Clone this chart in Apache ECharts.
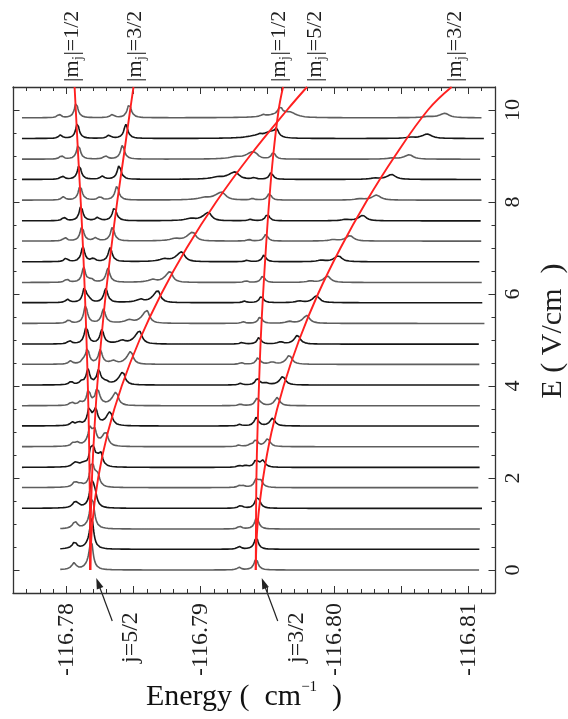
<!DOCTYPE html>
<html>
<head>
<meta charset="utf-8">
<script src="https://cdn.jsdelivr.net/npm/echarts@6/dist/echarts.min.js"></script>
<style>
  html, body { margin: 0; padding: 0; background: #fff; }
  #chart { width: 568px; height: 719px; }
</style>
</head>
<body>
<div id="chart"></div>
<script>
// Electric field (V/cm) of each stacked spectrum, bottom to top
const fieldValues = [0, 0.45, 0.89, 1.34, 1.79, 2.23, 2.68, 3.13, 3.57, 4.02, 4.47, 4.91,
  5.36, 5.81, 6.25, 6.70, 7.15, 7.59, 8.04, 8.49, 8.93, 9.38, 9.83];

// Scan range of each spectrum (cm^-1)
const scanStart = [-116.77953, -116.77953, -116.77953, -116.77667, -116.77667, -116.77667,
  -116.77667, -116.77667, -116.77667, -116.77667, -116.77667, -116.77667, -116.77667,
  -116.77667, -116.77667, -116.77667, -116.77667, -116.77667, -116.77667, -116.77667,
  -116.77667, -116.77667, -116.77667];
const scanEnd = [-116.81082, -116.81087, -116.81087, -116.81105, -116.81080, -116.81087,
  -116.81087, -116.81087, -116.81091, -116.81087, -116.81084, -116.81080, -116.81125,
  -116.81110, -116.81102, -116.81087, -116.81100, -116.81093, -116.81105, -116.81100,
  -116.81093, -116.81117, -116.81100];

// Measured line centres (cm^-1) per spectrum
// j=5/2 manifold: |mj|=1/2, 3/2, 5/2
const centreA = [-116.78184, -116.78187, -116.78186, -116.78183, -116.78183, -116.78181,
  -116.78177, -116.78169, -116.78164, -116.78160, -116.78156, -116.78149, -116.78141,
  -116.78134, -116.78128, -116.78122, -116.78115, -116.78108, -116.78102, -116.78095,
  -116.78089, -116.78081, -116.78072];
const centreB = [-116.78184, -116.78189, -116.78192, -116.78195, -116.78196, -116.78201,
  -116.78209, -116.78218, -116.78229, -116.78240, -116.78252, -116.78264, -116.78276,
  -116.78293, -116.78309, -116.78326, -116.78343, -116.78358, -116.78376, -116.78393,
  -116.78418, -116.78443, -116.78468];
const centreC = [-116.78184, -116.78189, -116.78198, -116.78213, -116.78233, -116.78255,
  -116.78294, -116.78326, -116.78371, -116.78421, -116.78481, -116.78545, -116.78600,
  -116.78682, -116.78774, -116.78861, -116.78943, -116.79060, -116.79160, -116.79259,
  -116.79391, -116.79528, -116.79669];
// j=3/2 manifold: |mj|=1/2, 3/2
const centreD = [-116.79416, -116.79416, -116.79417, -116.79418, -116.79416, -116.79414,
  -116.79414, -116.79419, -116.79423, -116.79425, -116.79431, -116.79438, -116.79446,
  -116.79455, -116.79466, -116.79475, -116.79489, -116.79500, -116.79515, -116.79528,
  -116.79545, -116.79569, -116.79595];
const centreE = [-116.79416, -116.79419, -116.79425, -116.79437, -116.79449, -116.79466,
  -116.79503, -116.79540, -116.79575, -116.79615, -116.79664, -116.79725, -116.79793,
  -116.79867, -116.79949, -116.80030, -116.80117, -116.80212, -116.80316, -116.80428,
  -116.80560, -116.80694, -116.80826];

// Line intensities (arb. units)
const heightA = [10, 10.5, 11, 11.5, 12, 13, 15, 15, 15, 15, 15, 15, 15, 15, 15, 15, 15, 15, 15, 15, 15, 15, 15];
const heightB = [10, 10.5, 11, 11.5, 12, 13, 14, 14, 14, 14, 14, 14, 14, 14, 14, 14, 14, 14, 14, 14, 14, 14, 14];
const heightC = [10, 10.5, 11, 11.5, 12, 14, 14, 14, 13.5, 13, 13, 13, 13, 12, 11, 10, 9, 8.5, 8, 7.5, 7, 6.5, 5.5];
const heightD = [6, 6, 6, 6.5, 7, 7, 7, 7, 7, 7, 7, 7, 7, 7, 7, 7, 7, 7, 7, 7, 7, 7.5, 8];
const heightE = [5.5, 6, 6, 6.5, 7, 7, 8, 8, 8.5, 8.5, 9, 9, 8, 7, 6.5, 6, 5.5, 5.5, 5, 5, 4.5, 4.5, 4.5];

// Line half-widths (cm^-1)
const widthA = 1.6e-4;
const widthB = 1.75e-4;
const widthD = 1.6e-4;
const widthC = [1.75e-4, 1.75e-4, 1.75e-4, 1.75e-4, 1.75e-4, 1.75e-4, 1.95e-4, 1.95e-4,
  1.95e-4, 1.95e-4, 1.95e-4, 2.3e-4, 2.3e-4, 2.3e-4, 2.3e-4, 2.65e-4, 2.65e-4,
  2.65e-4, 3.4e-4, 3.4e-4, 3.4e-4, 4.1e-4, 5.2e-4];
const widthE = [1.75e-4, 1.75e-4, 1.75e-4, 1.75e-4, 1.95e-4, 1.95e-4, 1.95e-4, 1.95e-4,
  1.95e-4, 2.3e-4, 2.3e-4, 2.3e-4, 2.65e-4, 2.65e-4, 2.65e-4, 3.0e-4, 3.0e-4,
  3.0e-4, 3.4e-4, 3.4e-4, 3.4e-4, 3.75e-4, 3.75e-4];
const skewC = 1.8;            // |mj|=5/2 lines tail towards higher energy
const satelliteShift = 1.27e-3; // weak companion line, higher energy
const satelliteRatio = 0.22;

// Calculated Stark shifts (cm^-1) versus field
const curveField = [0, 1, 2, 3, 4, 5, 6, 7, 8, 9, 10, 10.5];
const starkA = [-116.78177, -116.78176, -116.78172, -116.78167, -116.78159, -116.78149,
  -116.78137, -116.78123, -116.78106, -116.78087, -116.78069, -116.78060];
const starkB = [-116.78177, -116.78180, -116.78190, -116.78207, -116.78229, -116.78259,
  -116.78293, -116.78334, -116.78378, -116.78427, -116.78475, -116.78500];
const starkC = [-116.78177, -116.78192, -116.78236, -116.78309, -116.78412, -116.78545,
  -116.78707, -116.78897, -116.79117, -116.79368, -116.79647, -116.79796];
const starkD = [-116.79413, -116.79415, -116.79418, -116.79426, -116.79437, -116.79450,
  -116.79468, -116.79489, -116.79513, -116.79543, -116.79584, -116.79617];
const starkE = [-116.79413, -116.79427, -116.79468, -116.79531, -116.79621, -116.79737,
  -116.79878, -116.80046, -116.80237, -116.80453, -116.80699, -116.80876];
const starkLabels = ['1/2', '3/2', '1/2', '5/2', '3/2'];

// Zero-field levels
const levelNames = ['j=5/2', 'j=3/2'];
const levelEnergy = [starkA[0], starkD[0]];

// Axis ticks
const energyTickLabels = [-116.78, -116.79, -116.80, -116.81];
const energyMajorTicks = [-116.81, -116.805, -116.80, -116.795, -116.79, -116.785, -116.78];
const fieldTickLabels = [0, 2, 4, 6, 8, 10];

const E_MIN = -116.812, E_MAX = -116.776;
const F_MIN = -0.5, F_MAX = 10.5;
const stackScale = 1 / 46;   // intensity units -> V/cm offset in the stack
const SERIF = "'Liberation Serif', 'DejaVu Serif', serif";
const INK = '#1e1e1e';
const font = size => size + "px 'Liberation Serif', 'DejaVu Serif', serif";

function profile(e, c, h, w, skew) {
  const d = e - c;
  const ww = d > 0 ? w * skew : w;
  const q = d / ww;
  return h / (1 + q * q);
}

function spectrum(k) {
  const lines = [
    [centreA[k], heightA[k], widthA, 1],
    [centreB[k], heightB[k], widthB, 1],
    [centreC[k], heightC[k], widthC[k], skewC],
    [centreD[k], heightD[k], widthD, 1],
    [centreE[k], heightE[k], widthE[k], 1.2]
  ];
  const pts = [];
  const step = 2e-5;
  const n = Math.floor((scanStart[k] - scanEnd[k]) / step);
  for (let i = 0; i <= n; i++) {
    const e = scanStart[k] - i * step;
    let s = 0;
    for (const [c, h, w, sk] of lines) {
      s += profile(e, c, h, w, sk);
      s += profile(e, c + satelliteShift, h * satelliteRatio, w, sk);
    }
    pts.push([e, fieldValues[k] + s * stackScale]);
  }
  return pts;
}

const series = [];
for (let k = 0; k < fieldValues.length; k++) {
  series.push({
    name: 'spectrum' + k,
    type: 'line', xAxisIndex: 0, yAxisIndex: 0, data: spectrum(k),
    symbol: 'none', showSymbol: false, silent: true, animation: false, sampling: 'none',
    clip: false, z: 2,
    lineStyle: { color: k % 2 === 0 ? '#5e5e5e' : '#161616', width: 1.6 }
  });
}
const starkCurves = [starkA, starkB, starkD, starkC, starkE];
starkCurves.forEach((curve, i) => {
  series.push({
    name: 'stark' + i,
    type: 'line', xAxisIndex: 0, yAxisIndex: 0,
    data: curve.map((e, j) => [e, curveField[j]]),
    symbol: 'none', showSymbol: false, smooth: 0.4, silent: true, animation: false, z: 5,
    lineStyle: { color: '#ff2020', width: 1.9 }
  });
});

const frameLine = { show: true, onZero: false, lineStyle: { color: '#333', width: 1.3 } };
const hiddenLine = { show: false, onZero: false };
const tickStyle = { color: '#333', width: 1 };

function energyAxis(position, major, withLabels) {
  const ax = {
    type: 'value', position, min: E_MIN, max: E_MAX, inverse: true,
    axisLine: major ? frameLine : hiddenLine,
    axisTick: major
      ? { show: true, inside: true, length: 7, customValues: energyMajorTicks, lineStyle: tickStyle }
      : { show: true, inside: true, length: 4, lineStyle: tickStyle },
    axisLabel: withLabels ? {
      show: true, customValues: energyTickLabels, rotate: 90, margin: 10,
      formatter: v => v.toFixed(2), fontFamily: SERIF, fontSize: 24, color: INK
    } : { show: false },
    splitLine: { show: false }
  };
  if (!major) ax.interval = 0.001;
  return ax;
}
function fieldAxis(position, major, withLabels) {
  const ax = {
    type: 'value', position, min: F_MIN, max: F_MAX,
    axisLine: major ? hiddenLine : frameLine,
    axisTick: major
      ? { show: true, inside: true, length: 6.5, customValues: fieldTickLabels, lineStyle: tickStyle }
      : { show: true, inside: true, length: 3.5, lineStyle: tickStyle },
    axisLabel: withLabels ? {
      show: true, customValues: fieldTickLabels, rotate: 90, margin: 7,
      fontFamily: SERIF, fontSize: 22, color: INK
    } : { show: false },
    splitLine: { show: false }
  };
  if (!major) ax.interval = 0.5;
  return ax;
}

const chart = echarts.init(document.getElementById('chart'), null, { renderer: 'canvas' });
chart.setOption({
  backgroundColor: '#ffffff',
  animation: false,
  grid: { left: 13, right: 73, top: 87, bottom: 126, containLabel: false },
  xAxis: [
    energyAxis('bottom', true, true),
    energyAxis('bottom', false, false),
    energyAxis('top', true, false),
    energyAxis('top', false, false)
  ],
  yAxis: [
    fieldAxis('right', false, false),
    fieldAxis('right', true, true),
    fieldAxis('left', false, false),
    fieldAxis('left', true, false)
  ],
  series
});

// Annotations anchored to the data coordinates
const px = (e, f) => chart.convertToPixel({ xAxisIndex: 0, yAxisIndex: 0 }, [e, f]);
const measure = document.createElement('canvas').getContext('2d');
const textWidth = (str, size) => { measure.font = font(size); return measure.measureText(str).width; };

const graphic = [];
const labelNudge = [-2, 2, -4, 8, 4];
starkCurves.forEach((curve, i) => {
  const top = px(curve[curve.length - 1], F_MAX);
  const head = '|m', tail = '|=' + starkLabels[i];
  const w1 = textWidth(head, 22), w2 = textWidth('j', 14);
  const part = (str, size, dx, dy) => ({
    type: 'text', x: dx, y: dy,
    style: { text: str, x: 0, y: 0, align: 'left', verticalAlign: 'middle', font: font(size), fill: INK }
  });
  graphic.push({
    type: 'group', x: top[0] + labelNudge[i], y: 82, rotation: Math.PI / 2,
    children: [part(head, 22, 0, 0), part('j', 14, w1 + 0.5, 6), part(tail, 22, w1 + w2 + 1, 0)]
  });
});
levelEnergy.forEach((e, i) => {
  const p = px(e, 0);
  const tip = [p[0] + 6, p[1] + 8];
  const tail = [tip[0] + 16, tip[1] + 43];
  const dx = tip[0] - tail[0], dy = tip[1] - tail[1];
  const len = Math.hypot(dx, dy), ux = dx / len, uy = dy / len;
  const nx = -uy, ny = ux;
  graphic.push({
    type: 'line', shape: { x1: tail[0], y1: tail[1], x2: tip[0] - ux * 8, y2: tip[1] - uy * 8 },
    style: { stroke: '#222', lineWidth: 1.2 }
  });
  graphic.push({
    type: 'polygon',
    shape: { points: [tip, [tip[0] - ux * 11 + nx * 3.5, tip[1] - uy * 11 + ny * 3.5],
      [tip[0] - ux * 11 - nx * 3.5, tip[1] - uy * 11 - ny * 3.5]] },
    style: { fill: '#222' }
  });
  graphic.push({
    type: 'text', x: tail[0] + 18.5, y: tail[1] + 42, rotation: Math.PI / 2,
    style: { text: levelNames[i], x: 0, y: 0, align: 'left', verticalAlign: 'middle',
      font: font(24), fill: INK }
  });
});
graphic.push({
  type: 'text', x: 553, y: 331, rotation: Math.PI / 2,
  style: { text: 'E ( V/cm  )', x: 0, y: 0, align: 'center', verticalAlign: 'middle',
    font: font(30), fill: INK }
});
graphic.push({
  type: 'text', x: 244, y: 697,
  style: {
    text: '{e|Energy (  cm}{p|\u22121}{e|  )}', x: 0, y: 0, align: 'center', verticalAlign: 'middle',
    font: font(30), fill: '#111',
    rich: {
      e: { font: font(30), lineHeight: 34, verticalAlign: 'middle', fill: '#111' },
      p: { font: font(15), lineHeight: 15, verticalAlign: 'top', fill: '#111' }
    }
  }
});
chart.setOption({ graphic });
</script>
</body>
</html>
